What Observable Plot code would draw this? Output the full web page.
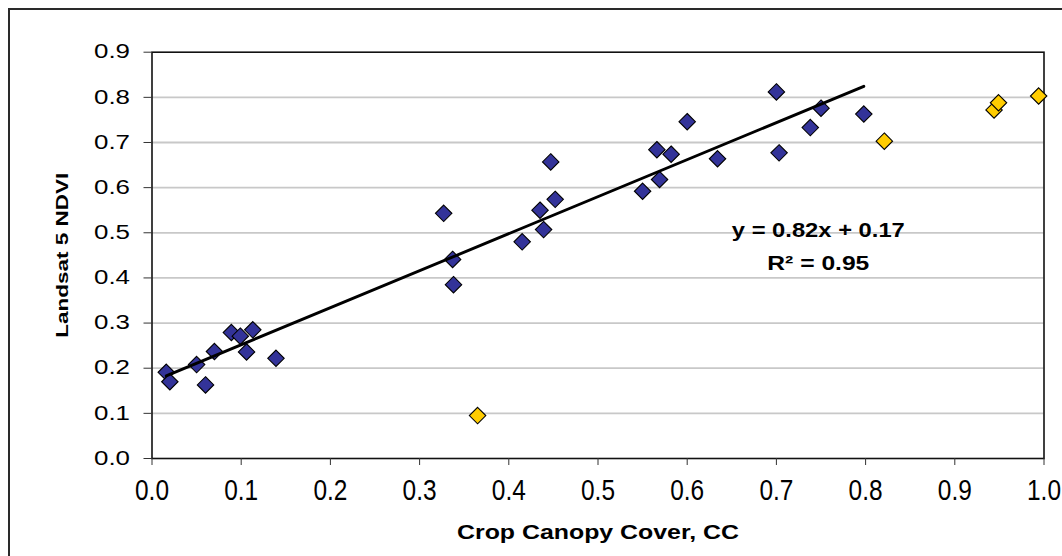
<!DOCTYPE html>
<html>
<head>
<meta charset="utf-8">
<script src="https://cdn.jsdelivr.net/npm/d3@7"></script>
<script src="https://cdn.jsdelivr.net/npm/@observablehq/plot@0.6"></script>
<style>
  html, body { margin: 0; padding: 0; background: #fff; }
  #wrap { position: relative; width: 1062px; height: 556px; overflow: hidden; }
  #border { position: absolute; left: 8px; top: 8px; width: 1100px; height: 600px;
            border-left: 2px solid #2a2a2a; border-top: 2px solid #2a2a2a; }
  #chart { position: absolute; left: 0; top: 0; }
</style>
</head>
<body>
<div id="wrap"><div id="border"></div><div id="chart"></div></div>
<script>
// Blue points (used in regression)
const blueX = [0.016, 0.020, 0.050, 0.060, 0.070, 0.089, 0.099, 0.106, 0.113, 0.139,
               0.327, 0.337, 0.338, 0.415, 0.435, 0.439, 0.447, 0.452, 0.550, 0.566,
               0.569, 0.582, 0.600, 0.634, 0.700, 0.703, 0.738, 0.750, 0.798];
const blueY = [0.191, 0.170, 0.208, 0.163, 0.237, 0.279, 0.271, 0.236, 0.285, 0.222,
               0.543, 0.441, 0.385, 0.480, 0.550, 0.507, 0.657, 0.574, 0.592, 0.684,
               0.618, 0.674, 0.746, 0.664, 0.812, 0.677, 0.733, 0.776, 0.763];
// Yellow points (excluded)
const yellowX = [0.365, 0.821, 0.944, 0.949, 0.994];
const yellowY = [0.095, 0.703, 0.772, 0.788, 0.803];

// Trendline
const slope = 0.82;
const intercept = 0.17;
const eqText = "y = 0.82x + 0.17";
const r2Text = "R² = 0.95";

// Ticks
const xTicks = [0, 0.1, 0.2, 0.3, 0.4, 0.5, 0.6, 0.7, 0.8, 0.9, 1.0];
const yTicks = [0, 0.1, 0.2, 0.3, 0.4, 0.5, 0.6, 0.7, 0.8, 0.9];
const xTitle = "Crop Canopy Cover, CC";
const yTitle = "Landsat 5 NDVI";

const blue = blueX.map((x, i) => ({x, y: blueY[i]}));
const yellow = yellowX.map((x, i) => ({x, y: yellowY[i]}));
const xExt = d3.extent(blueX);
const trend = xExt.map(x => ({x, y: slope * x + intercept}));

const font = "'Liberation Sans', Arial, Helvetica, sans-serif";

const plot = Plot.plot({
  width: 1062,
  height: 556,
  marginLeft: 151.5,
  marginRight: 18.5,
  marginTop: 51.7,
  marginBottom: 98,
  x: {domain: [0, 1]},
  y: {domain: [0, 0.9]},
  style: {fontFamily: font, background: "transparent", color: "#000"},
  marks: [
    Plot.ruleY(yTicks.slice(1, -1), {stroke: "#c8c8c8", strokeWidth: 1.8}),
    Plot.frame({stroke: "#111", strokeWidth: 1.6}),
    Plot.axisY({ticks: yTicks, tickFormat: d3.format(".1f"), tickSize: 8, tickPadding: 14,
                fontSize: 19.5, label: null, stroke: "#333"}),
    Plot.axisX({ticks: xTicks, tickFormat: d3.format(".1f"), tickSize: 7, tickPadding: 14,
                fontSize: 29, label: null, stroke: "#333"}),
    Plot.dot(blue, {x: "x", y: "y", symbol: "diamond2", r: 7.4, fill: "#333399", stroke: "#000", strokeWidth: 1.1}),
    Plot.dot(yellow, {x: "x", y: "y", symbol: "diamond2", r: 7.4, fill: "#FFCC00", stroke: "#000", strokeWidth: 1.1}),
    Plot.line(trend, {x: "x", y: "y", stroke: "#000", strokeWidth: 2.9}),
    Plot.text([eqText], {x: () => 0.747, y: () => 0.5055, text: d => d, fontSize: 21, fontWeight: "bold",
                         textAnchor: "middle", lineAnchor: "middle", fill: "#000", className: "eq"}),
    Plot.text([r2Text], {x: () => 0.747, y: () => 0.432, text: d => d, fontSize: 21, fontWeight: "bold",
                         textAnchor: "middle", lineAnchor: "middle", fill: "#000", className: "r2"}),
    Plot.text([xTitle], {frameAnchor: "bottom", dy: 74, text: d => d, fontSize: 20, fontWeight: "bold",
                         textAnchor: "middle", lineAnchor: "middle", fill: "#000", className: "xtitle"}),
    Plot.text([yTitle], {frameAnchor: "left", dx: -89.5, rotate: -90, text: d => d, fontSize: 16,
                         fontWeight: "bold", textAnchor: "middle", lineAnchor: "middle", fill: "#000",
                         className: "ytitle"})
  ]
});

document.getElementById("chart").appendChild(plot);

// stretch texts to match the reference's proportions
const svg = d3.select(plot);
function fit(sel, len) {
  sel.attr("textLength", len).attr("lengthAdjust", "spacingAndGlyphs");
}
fit(svg.selectAll('g[aria-label="y-axis tick label"] text'), 36);
fit(svg.selectAll('g[aria-label="x-axis tick label"] text'), 34);
fit(svg.selectAll('g.eq text'), 173);
fit(svg.selectAll('g.r2 text'), 102);
fit(svg.selectAll('g.xtitle text'), 282);
fit(svg.selectAll('g.ytitle text'), 165);
</script>
</body>
</html>
